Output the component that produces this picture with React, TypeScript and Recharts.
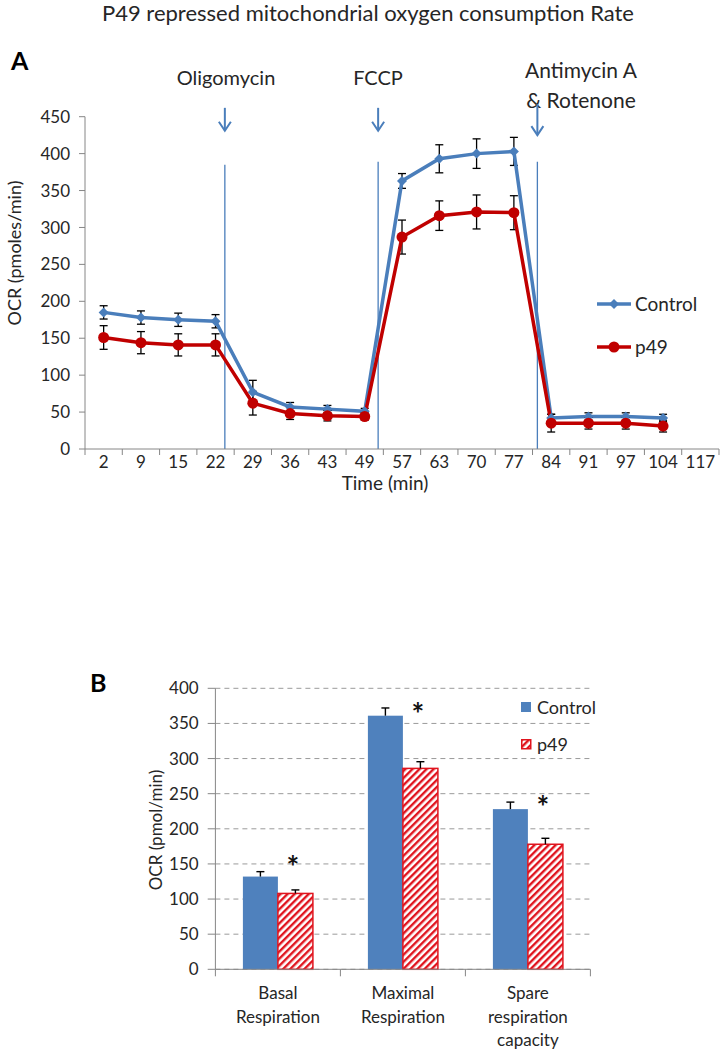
import React from "react";
import {
  LineChart,
  Line,
  BarChart,
  Bar,
  XAxis,
  YAxis,
  CartesianGrid,
  ErrorBar,
  ReferenceLine,
  ReferenceDot,
} from "recharts";

/* ── Panel A data ─────────────────────────────────────── */
const timeLabels = ["2", "9", "15", "22", "29", "36", "43", "49", "57", "63", "70", "77", "84", "91", "97", "104", "117"];
const controlOcr = [185, 178, 175, 173, 77, 57, 54, 51, 363, 393, 400, 403, 42, 44, 44, 42];
const controlSem = [9, 9, 9, 9, 16, 6, 5, 4, 10, 19, 20, 19, 5, 5, 5, 5];
const p49Ocr = [151, 144, 141, 141, 62, 48, 45, 44, 287, 316, 321, 320, 35, 35, 35, 31];
const p49Sem = [16, 15, 15, 15, 16, 8, 7, 5, 23, 20, 23, 23, 12, 8, 8, 8];
const ocrTicks = [0, 50, 100, 150, 200, 250, 300, 350, 400, 450];

// injections, in category units along the time axis
const injectionNames = ["Oligomycin", "FCCP", "Antimycin A\n& Rotenone"];
const injectionPos = [3.75, 7.86, 12.13];
const injectionLineTop = [385, 389, 389];
const arrowTop = [462, 462, 467];
const arrowTip = [431, 431, 425];

/* ── Panel B data ─────────────────────────────────────── */
const respCategories = ["Basal\nRespiration", "Maximal\nRespiration", "Spare\nrespiration\ncapacity"];
const controlRate = [132, 361, 228];
const controlRateErr = [7, 11, 10];
const p49Rate = [108, 286, 178];
const p49RateErr = [5, 9.5, 8.5];
const sigMarkY = [151, 369, 237];
const rateTicks = [0, 50, 100, 150, 200, 250, 300, 350, 400];

const FONT = "Lato, 'Open Sans', sans-serif";
const BLUE_LINE = "#4A7EBB";
const RED_LINE = "#C00000";
const BLUE_BAR = "#4F81BD";
const RED_HATCH = "#E0141E";
const TEXT = "#262626";

const timeData = controlOcr.map((v, i) => ({
  pos: i + 0.5,
  control: v,
  controlErr: controlSem[i],
  p49: p49Ocr[i],
  p49Err: p49Sem[i],
}));

const rateData = respCategories.map((name, i) => ({
  name,
  control: controlRate[i],
  controlErr: controlRateErr[i],
  p49: p49Rate[i],
  p49Err: p49RateErr[i],
}));

const A_WIDTH = 721;
const A_MARGIN = { top: 116.7, right: 2, bottom: 21, left: 45 };
const A_YAXIS_W = 40;
const A_STEP = (A_WIDTH - A_MARGIN.left - A_YAXIS_W - A_MARGIN.right) / timeLabels.length;

function TimeTick(props: any) {
  const { x, y, payload } = props;
  const label = timeLabels[payload.value];
  if (label === undefined) return <g />;
  return (
    <text x={x + A_STEP / 2} y={y} dy="0.62em" textAnchor="middle" fontSize={17} fill={TEXT} fontFamily={FONT}>
      {label}
    </text>
  );
}

function Diamond(props: any) {
  const { cx, cy } = props;
  if (cx == null || cy == null) return <g />;
  const s = 5;
  return <path d={`M${cx},${cy - s}L${cx + s},${cy}L${cx},${cy + s}L${cx - s},${cy}Z`} fill={BLUE_LINE} />;
}

function RedDot(props: any) {
  const { cx, cy } = props;
  if (cx == null || cy == null) return <g />;
  return <circle cx={cx} cy={cy} r={5.5} fill={RED_LINE} />;
}

function Arrow(props: any) {
  const { x1, y1, x2, y2 } = props;
  return (
    <g stroke={BLUE_LINE} strokeWidth={2} fill="none">
      <line x1={x1} y1={y1} x2={x2} y2={y2} />
      <polyline points={`${x2 - 6},${y2 - 9} ${x2},${y2} ${x2 + 6},${y2 - 9}`} />
    </g>
  );
}

/* ── Panel B helpers ──────────────────────────────────── */
const B_WIDTH = 721;
const B_MARGIN = { top: 88.3, right: 130.6, bottom: 5.7, left: 150.4 };
const B_YAXIS_W = 65;
const B_BAND = (B_WIDTH - B_MARGIN.left - B_YAXIS_W - B_MARGIN.right) / respCategories.length;

function CategoryTick(props: any) {
  const { x, y, payload, index } = props;
  const lines = String(payload.value).split("\n");
  const last = index === respCategories.length - 1;
  return (
    <g>
      <line x1={x - B_BAND / 2} x2={x - B_BAND / 2} y1={y} y2={y + 7} stroke="#868686" />
      {last && <line x1={x + B_BAND / 2} x2={x + B_BAND / 2} y1={y} y2={y + 7} stroke="#868686" />}
      <text x={x} y={y + 30} textAnchor="middle" fontSize={17} fill={TEXT} fontFamily={FONT}>
        {lines.map((l, i) => (
          <tspan key={i} x={x} dy={i === 0 ? 0 : 23.5}>
            {l}
          </tspan>
        ))}
      </text>
    </g>
  );
}

function barWithError(valueKey: string, errKey: string) {
  return (props: any) => {
    const { x, y, width, height, payload, fill, stroke, strokeWidth } = props;
    const errPx = (payload[errKey] / payload[valueKey]) * height;
    const cx = x + width / 2;
    return (
      <g>
        <rect x={x} y={y} width={width} height={height} fill={fill} stroke={stroke} strokeWidth={strokeWidth} />
        <line x1={cx} x2={cx} y1={y} y2={y - errPx} stroke="#000" strokeWidth={1.4} />
        <line x1={cx - 4} x2={cx + 4} y1={y - errPx} y2={y - errPx} stroke="#000" strokeWidth={1.4} />
      </g>
    );
  };
}

function Star(props: any) {
  const { cx, cy } = props;
  return (
    <text x={cx + 15} y={cy + 15} textAnchor="middle" fontSize={30} fontWeight="bold" fill="#111" fontFamily={FONT}>
      *
    </text>
  );
}

const abs = (left: number, top: number, extra: React.CSSProperties = {}): React.CSSProperties => ({
  position: "absolute",
  left,
  top,
  fontFamily: FONT,
  color: TEXT,
  whiteSpace: "nowrap",
  lineHeight: 1,
  ...extra,
});

export default function App() {
  return (
    <div style={{ position: "absolute", left: 0, top: 0, width: 721, height: 1050, background: "#fff", overflow: "hidden" }}>
      {/* title */}
      <div style={abs(368, 13, { transform: "translate(-50%,-50%)", fontSize: 22 })}>
        P49 repressed mitochondrial oxygen consumption Rate
      </div>
      <div style={abs(11, 48, { fontSize: 25, fontWeight: "bold", color: "#000" })}>A</div>

      {/* injection labels */}
      <div style={abs(226, 77, { transform: "translate(-50%,-50%)", fontSize: 20 })}>{injectionNames[0]}</div>
      <div style={abs(378, 77, { transform: "translate(-50%,-50%)", fontSize: 20 })}>{injectionNames[1]}</div>
      <div style={abs(581, 85, { transform: "translate(-50%,-50%)", fontSize: 21, textAlign: "center", lineHeight: "30px", whiteSpace: "pre" })}>
        {injectionNames[2]}
      </div>

      {/* Panel A chart */}
      <div style={{ position: "absolute", left: 0, top: 0 }}>
        <LineChart width={A_WIDTH} height={500} data={timeData} margin={A_MARGIN}>
          <XAxis
            dataKey="pos"
            type="number"
            domain={[0, timeLabels.length]}
            ticks={timeLabels.map((_, i) => i).concat([timeLabels.length])}
            interval={0}
            tick={<TimeTick />}
            tickSize={6}
            height={30}
            stroke="#868686"
            allowDataOverflow
          />
          <YAxis
            type="number"
            domain={[0, 450]}
            ticks={ocrTicks}
            interval={0}
            width={A_YAXIS_W}
            tickSize={6}
            tickMargin={9}
            stroke="#868686"
            tick={{ fontSize: 17, fill: TEXT, fontFamily: FONT }}
          />
          {injectionPos.map((p, i) => (
            <ReferenceLine
              key={`inj-${i}`}
              segment={[
                { x: p, y: 0 },
                { x: p, y: injectionLineTop[i] },
              ]}
              stroke={BLUE_LINE}
              strokeWidth={1.3}
            />
          ))}
          {injectionPos.map((p, i) => (
            <ReferenceLine
              key={`arrow-${i}`}
              segment={[
                { x: p, y: arrowTop[i] },
                { x: p, y: arrowTip[i] },
              ]}
              ifOverflow="visible"
              shape={<Arrow />}
            />
          ))}
          <Line
            dataKey="control"
            stroke={BLUE_LINE}
            strokeWidth={3.5}
            dot={<Diamond />}
            activeDot={false}
            isAnimationActive={false}
          >
            <ErrorBar dataKey="controlErr" direction="y" width={4} stroke="#000" strokeWidth={1.3} />
          </Line>
          <Line
            dataKey="p49"
            stroke={RED_LINE}
            strokeWidth={3.5}
            dot={<RedDot />}
            activeDot={false}
            isAnimationActive={false}
          >
            <ErrorBar dataKey="p49Err" direction="y" width={4} stroke="#000" strokeWidth={1.3} />
          </Line>
        </LineChart>
      </div>

      {/* Panel A axis titles */}
      <div style={abs(14, 253, { transform: "translate(-50%,-50%) rotate(-90deg)", fontSize: 18 })}>OCR (pmoles/min)</div>
      <div style={abs(385, 482, { transform: "translate(-50%,-50%)", fontSize: 19 })}>Time (min)</div>

      {/* Panel A legend */}
      <div style={abs(597, 294, { display: "flex", alignItems: "center", fontSize: 19 })}>
        <svg width={36} height={14}>
          <line x1={0} x2={34} y1={7} y2={7} stroke={BLUE_LINE} strokeWidth={3.5} />
          <path d="M17,2L22,7L17,12L12,7Z" fill={BLUE_LINE} />
        </svg>
        <span style={{ marginLeft: 2 }}>Control</span>
      </div>
      <div style={abs(597, 337, { display: "flex", alignItems: "center", fontSize: 19 })}>
        <svg width={36} height={14}>
          <line x1={0} x2={34} y1={7} y2={7} stroke={RED_LINE} strokeWidth={3.5} />
          <circle cx={17} cy={7} r={5.5} fill={RED_LINE} />
        </svg>
        <span style={{ marginLeft: 2 }}>p49</span>
      </div>

      {/* Panel B */}
      <div style={abs(90, 670, { fontSize: 25, fontWeight: "bold", color: "#000" })}>B</div>
      <div style={{ position: "absolute", left: 0, top: 600 }}>
        <BarChart
          width={B_WIDTH}
          height={450}
          data={rateData}
          margin={B_MARGIN}
          barCategoryGap="22%"
          barGap={0}
        >
          <defs>
            <pattern id="hatch" width={5} height={5} patternUnits="userSpaceOnUse" patternTransform="rotate(45)">
              <rect width={5} height={5} fill="#fff" />
              <rect width={2.4} height={5} fill={RED_HATCH} />
            </pattern>
          </defs>
          <CartesianGrid vertical={false} stroke="#9a9a9a" strokeDasharray="5 4" />
          <XAxis
            dataKey="name"
            interval={0}
            tickLine={false}
            tickSize={0}
            tickMargin={0}
            height={75}
            stroke="#868686"
            tick={<CategoryTick />}
          />
          <YAxis
            type="number"
            domain={[0, 400]}
            ticks={rateTicks}
            interval={0}
            width={B_YAXIS_W}
            tickSize={7.7}
            tickMargin={9}
            stroke="#868686"
            tick={{ fontSize: 17, fill: TEXT, fontFamily: FONT }}
          />
          <Bar
            dataKey="control"
            fill={BLUE_BAR}
            isAnimationActive={false}
            shape={barWithError("control", "controlErr")}
          />
          <Bar
            dataKey="p49"
            fill="url(#hatch)"
            stroke={RED_HATCH}
            strokeWidth={1.5}
            isAnimationActive={false}
            shape={barWithError("p49", "p49Err")}
          />
          {respCategories.map((c, i) => (
            <ReferenceDot key={c} x={c} y={sigMarkY[i]} r={0} ifOverflow="visible" shape={<Star />} />
          ))}
        </BarChart>
      </div>

      {/* Panel B axis title */}
      <div style={abs(155, 830, { transform: "translate(-50%,-50%) rotate(-90deg)", fontSize: 17 })}>OCR (pmol/min)</div>

      {/* Panel B legend */}
      <div style={abs(521, 698, { display: "flex", alignItems: "center", fontSize: 18 })}>
        <svg width={11} height={11}>
          <rect x={0} y={0} width={10} height={10} fill={BLUE_BAR} />
        </svg>
        <span style={{ marginLeft: 5 }}>Control</span>
      </div>
      <div style={abs(521, 735, { display: "flex", alignItems: "center", fontSize: 18 })}>
        <svg width={11} height={11}>
          <rect x={0.75} y={0.75} width={9} height={9} fill="url(#hatch)" stroke={RED_HATCH} strokeWidth={1.5} />
        </svg>
        <span style={{ marginLeft: 5 }}>p49</span>
      </div>
    </div>
  );
}
